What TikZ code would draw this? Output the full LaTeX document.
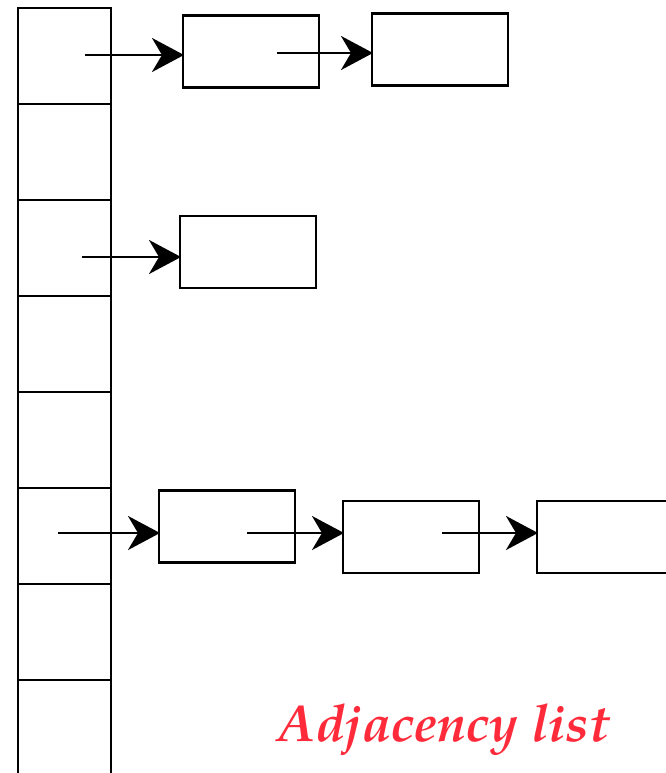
\documentclass[tikz,border=0pt]{standalone}
\usepackage{fontspec}
\newfontfamily\capfont{TeX Gyre Pagella}
\usetikzlibrary{arrows.meta}
\definecolor{captionred}{RGB}{255,42,58}
\begin{document}
\begin{tikzpicture}[x=1pt,y=-1pt,
  line width=2.8pt,
  cell/.style={draw,minimum width=93pt,minimum height=96pt,inner sep=0pt,outer sep=0pt},
  listbox/.style={draw,minimum width=136pt,minimum height=72pt,inner sep=0pt,outer sep=0pt},
  link/.style={-{Stealth[length=32pt,width=34pt,inset=10pt]},shorten >=-1pt}]
\useasboundingbox (0,0) rectangle (666,773);
\clip (0,0) rectangle (666,773);
% the array of heads
\foreach \i in {1,...,8}{
  \node[cell] (cell\i) at (64.5,{8+96*(\i-1)+48}) {};
}
% first list
\node[listbox] (a1) at (251,51.5) {};
\node[listbox] (a2) at (440,49.5) {};
\coordinate (s1) at (85,55);
\coordinate (s2) at (277,53);
\draw[link] (s1) -- (s1 -| a1.west);
\draw[link] (s2) -- (s2 -| a2.west);
% second list
\node[listbox] (b1) at (248,252) {};
\coordinate (s3) at (82,257);
\draw[link] (s3) -- (s3 -| b1.west);
% third list
\node[listbox] (c1) at (227,526.5) {};
\node[listbox] (c2) at (411,537) {};
\node[listbox] (c3) at (605,537) {};
\coordinate (s4) at (58,533);
\coordinate (s5) at (247,533);
\coordinate (s6) at (442,533);
\draw[link] (s4) -- (s4 -| c1.west);
\draw[link] (s5) -- (s5 -| c2.west);
\draw[link] (s6) -- (s6 -| c3.west);
% caption
\node[text=captionred,anchor=base,inner sep=0pt,font=\capfont\fontsize{52}{56}\selectfont\bfseries\itshape] (caption) at (443.5,741) {Adjacency list};
\end{tikzpicture}
\end{document}
